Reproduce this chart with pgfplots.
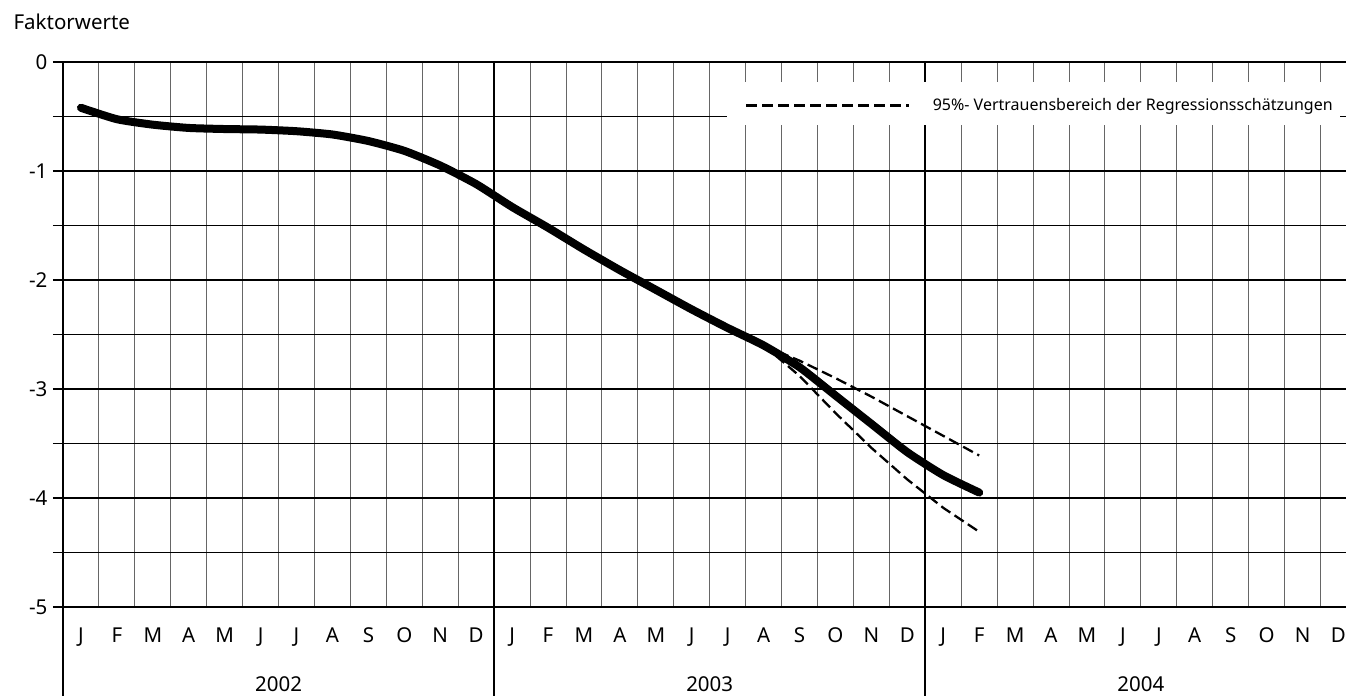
\documentclass[border=0pt]{standalone}
\usepackage{fontspec}
\setmainfont{Noto Sans}
\usepackage{pgfplots}
\pgfplotsset{compat=1.18}

\begin{document}
\begin{tikzpicture}
\begin{axis}[
    name=ax,
    at={(0,0)}, anchor=south west,
    scale only axis,
    width=1283pt, height=545pt,
    xmin=0, xmax=35.71, ymin=-5, ymax=0,
    clip=false,
    axis x line*=bottom, axis y line*=left,
    axis line style={line width=2.5pt},
    font=\fontsize{20.5}{24}\selectfont,
    % months: thin grid, years: thick grid
    xtick={0,12,24}, xticklabels={},
    minor xtick={1,2,3,4,5,6,7,8,9,10,11,13,14,15,16,17,18,19,20,21,22,23,25,26,27,28,29,30,31,32,33,34,35},
    major x tick style={draw=none}, minor x tick style={draw=none},
    extra x ticks={0.5,1.5,...,35.5},
    extra x tick labels={J,F,M,A,M,J,J,A,S,O,N,D,J,F,M,A,M,J,J,A,S,O,N,D,J,F,M,A,M,J,J,A,S,O,N,D},
    extra x tick style={grid=none, major tick length=0pt, tick style={draw=none},
        xticklabel style={anchor=base, yshift=-35pt}},
    ytick={-5,-4,-3,-2,-1,0},
    yticklabels={-5,-4,-3,-2,-1,0},
    minor ytick={-4.5,-3.5,-2.5,-1.5,-0.5},
    tick align=outside,
    major tick length=10pt, minor tick length=10pt,
    major y tick style={line width=2.5pt, black},
    minor y tick style={line width=1pt, black},
    yticklabel style={anchor=east, xshift=-2pt},
    grid=both,
    major x grid style={line width=2.2pt, black},
    minor x grid style={line width=1pt, black!60},
    major y grid style={line width=2.6pt, black},
    minor y grid style={line width=1pt, black},
    legend style={at={(axis cs:18.98,-0.40)}, anchor=west, draw=none, fill=none,
        font=\fontsize{16}{19}\selectfont, inner sep=0pt,
        nodes={inner sep=0pt},
        /tikz/every odd column/.append style={column sep=22pt}},
    legend image code/.code={\draw[#1, line width=2.7pt] (0pt,0pt) -- (163pt,0pt);},
]

% white area behind the legend
\fill[white] (axis cs:18.48,-0.18) rectangle (axis cs:35.54,-0.58);

% upper limit of the 95% band
\addplot[black, line width=2.3pt, dash pattern=on 11pt off 5pt] coordinates {
    (19.5,-2.60) (20.5,-2.74) (21.5,-2.90) (22.5,-3.07)
    (23.5,-3.25) (24.5,-3.43) (25.5,-3.61)
};
\addlegendentry{95\%- Vertrauensbereich der Regressionsschätzungen}

% lower limit of the 95% band
\addplot[black, line width=2.3pt, dash pattern=on 11pt off 5pt, forget plot] coordinates {
    (19.5,-2.60) (20.5,-2.88) (21.5,-3.22) (22.5,-3.54)
    (23.5,-3.83) (24.5,-4.09) (25.5,-4.31)
};

% factor values
\addplot[black, line width=8pt, line cap=round, smooth, tension=0.35, forget plot] coordinates {
    (0.5,-0.42) (1.5,-0.525) (2.5,-0.575) (3.5,-0.605) (4.5,-0.615)
    (5.5,-0.62) (6.5,-0.635) (7.5,-0.665) (8.5,-0.725) (9.5,-0.815)
    (10.5,-0.95) (11.5,-1.12) (12.5,-1.33) (13.5,-1.52) (14.5,-1.72)
    (15.5,-1.91) (16.5,-2.09) (17.5,-2.27) (18.5,-2.44) (19.5,-2.60)
    (20.5,-2.80) (21.5,-3.06) (22.5,-3.32) (23.5,-3.58) (24.5,-3.79)
    (25.5,-3.95)
};

% year separators below the axis
\draw[line width=2.5pt] (axis cs:0,-5) -- ++(0pt,-89pt);
\draw[line width=2.2pt] (axis cs:12,-5) -- ++(0pt,-89pt);
\draw[line width=2.2pt] (axis cs:24,-5) -- ++(0pt,-89pt);
\node[anchor=base] at (axis cs:6,-5) [yshift=-84pt] {2002};
\node[anchor=base] at (axis cs:18,-5) [yshift=-84pt] {2003};
\node[anchor=base] at (axis cs:30,-5) [yshift=-84pt] {2004};
\end{axis}

\node[anchor=base west, font=\fontsize{20.5}{24}\selectfont] at ([xshift=-53pt, yshift=32.7pt]ax.north west) {Faktorwerte};

\pgfresetboundingbox
\path[use as bounding box] (-63pt,-89pt) rectangle (1283pt,607pt);
\end{tikzpicture}
\end{document}
